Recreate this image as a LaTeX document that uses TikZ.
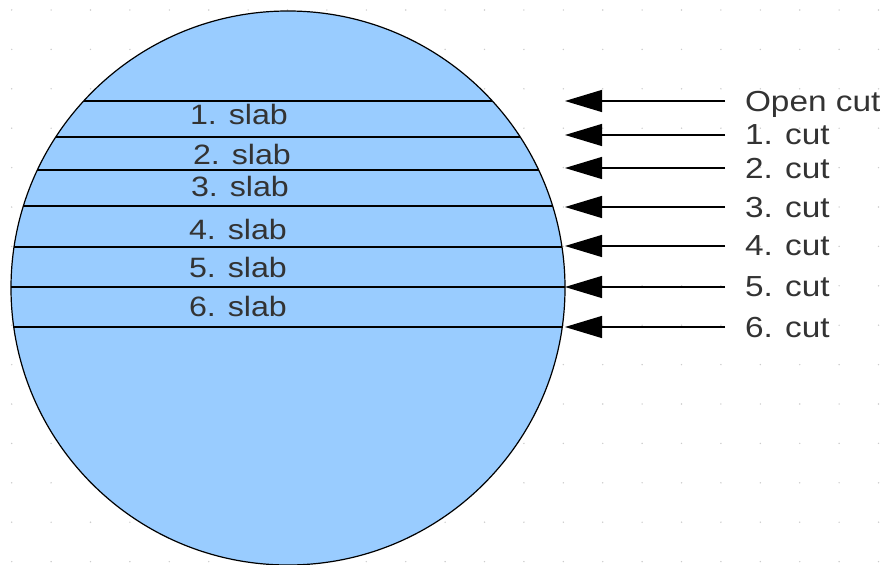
\documentclass[tikz,border=0pt]{standalone}
\usepackage{fontspec}
\setmainfont{Liberation Sans}[FakeStretch=1.15]
\usetikzlibrary{arrows.meta}
\definecolor{slabblue}{HTML}{99CCFF}
\definecolor{labelgray}{HTML}{333333}

\begin{document}
\begin{tikzpicture}[x=1pt,y=-1pt,line width=1.2pt,
	arrows={-{Triangle[length=37pt,width=22pt]}},
	slab/.style={inner sep=0pt,text=labelgray,font=\fontsize{28}{28}\selectfont},
	cutlabel/.style={anchor=west,inner sep=0pt,outer xsep=20pt,text depth=0pt,
		text=labelgray,font=\fontsize{29}{29}\selectfont}]
	\useasboundingbox (0,0) rectangle (890,564);
	% dotted grid
	\foreach \i in {0,...,22}
		\foreach \j in {0,...,14}
			\fill[gray!40] (11.7+39.4*\i,10+39.4*\j) circle (0.8pt);
	% the log
	\coordinate (O) at (288,288);
	\fill[slabblue] (O) circle (277pt);
	\begin{scope}
		\clip (O) circle (277pt);
		\foreach \y in {101,137,170,206,247,287,327}
			\draw[-] (0,\y) -- (600,\y);
	\end{scope}
	\draw[-] (O) circle (277pt);
	% slabs
	\foreach \n/\x/\y in {1/239/114,2/242/154,3/240/186,4/238/229,5/238/267,6/238/306}
		\node[slab] (slab\n) at (\x,\y) {\n. slab};
	% cuts
	\foreach \n/\y/\txt in {0/101/Open cut,1/135/1. cut,2/168/2. cut,3/207/3. cut,
		4/246/4. cut,5/287/5. cut,6/327/6. cut}
	{
		\coordinate (t\n) at (565,\y);
		\node[cutlabel] (c\n) at (725,\y) {\txt};
		\draw (c\n.west) -- (t\n);
	}
\end{tikzpicture}
\end{document}
